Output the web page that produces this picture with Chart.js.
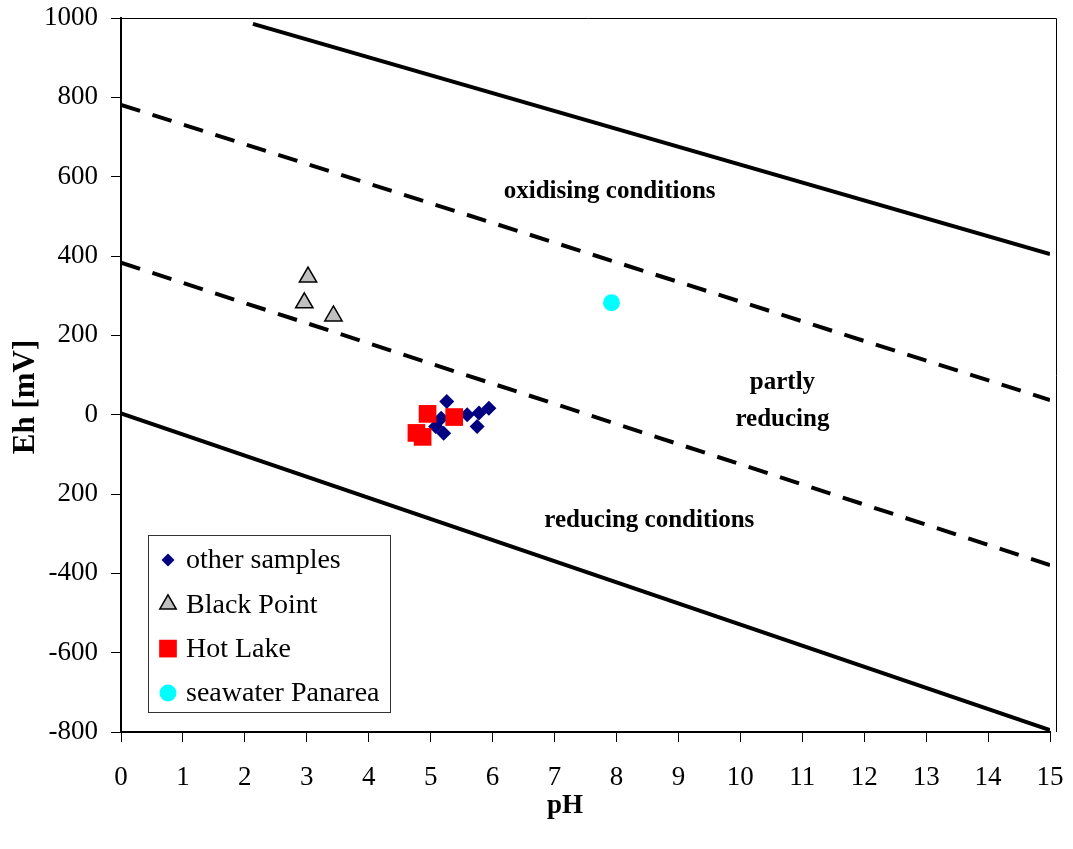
<!DOCTYPE html>
<html>
<head>
<meta charset="utf-8">
<script src="https://cdn.jsdelivr.net/npm/chart.js@4.4.0/dist/chart.umd.min.js"></script>
<style>
  html, body { margin: 0; padding: 0; background: #fff; }
  #wrap { width: 1073px; height: 849px; }
</style>
</head>
<body>
<div id="wrap"><canvas id="chart" width="1073" height="849"></canvas></div>
<script>
// measured samples, pH vs Eh [mV]
const otherSamples = [
  { x: 5.26, y: 33 }, { x: 5.17, y: -9 }, { x: 5.08, y: -30 }, { x: 5.21, y: -47 },
  { x: 5.59, y: 0 }, { x: 5.78, y: 4 }, { x: 5.94, y: 16 }, { x: 5.75, y: -30 }
];
const blackPoint = [{ x: 3.02, y: 347 }, { x: 2.96, y: 282 }, { x: 3.43, y: 249 }];
const hotLake = [{ x: 4.95, y: 2 }, { x: 5.38, y: -6 }, { x: 4.77, y: -46 }, { x: 4.87, y: -56 }];
const seawaterPanarea = [{ x: 7.92, y: 282 }];

// field boundaries
const oxidisingLimit = [{ x: 2.13, y: 985 }, { x: 15, y: 405 }];
const upperDashed = [{ x: 0, y: 781 }, { x: 15, y: 37 }];
const lowerDashed = [{ x: 0, y: 383 }, { x: 15, y: -379 }];
const reducingLimit = [{ x: 0, y: 3 }, { x: 15, y: -795 }];

// axis ticks
const ehTicks = [-800, -600, -400, -200, 0, 200, 400, 600, 800, 1000];
const ehTickLabels = ['-800', '-600', '-400', '200', '0', '200', '400', '600', '800', '1000'];

// field names, placed in data units
const fieldNames = [
  { text: 'oxidising conditions', x: 7.89, y: 562 },
  { text: 'partly', x: 10.68, y: 82 },
  { text: 'reducing', x: 10.68, y: -12 },
  { text: 'reducing conditions', x: 8.53, y: -266 }
];

const SERIF = '"Liberation Serif", "Times New Roman", serif';

function boundary(data, dashed) {
  return {
    type: 'line', data, showLine: true, pointRadius: 0, pointHoverRadius: 0,
    borderColor: '#000', borderWidth: 4, borderDash: dashed ? [20, 13] : [],
    fill: false, order: 10
  };
}

const chartDecor = {
  id: 'chartDecor',
  afterDraw(chart) {
    const { ctx, chartArea: a, scales: { x, y } } = chart;
    ctx.save();

    // thin frame on top and right of the plot
    ctx.strokeStyle = '#000';
    ctx.lineWidth = 1;
    ctx.beginPath();
    ctx.moveTo(a.left, a.top + 0.5);
    ctx.lineTo(a.right + 6.5, a.top + 0.5);
    ctx.lineTo(a.right + 6.5, a.bottom);
    ctx.stroke();

    // field names
    ctx.fillStyle = '#000';
    ctx.font = 'bold 25px ' + SERIF;
    ctx.textAlign = 'center';
    ctx.textBaseline = 'middle';
    fieldNames.forEach(n => ctx.fillText(n.text, x.getPixelForValue(n.x), y.getPixelForValue(n.y)));

    // axis titles
    ctx.font = 'bold 27px ' + SERIF;
    ctx.fillText('pH', 565, 806);
    ctx.save();
    ctx.translate(26, 397);
    ctx.rotate(-Math.PI / 2);
    ctx.font = 'bold 31px ' + SERIF;
    ctx.fillText('Eh [mV]', 0, 0);
    ctx.restore();

    // legend box
    const bx = 148, by = 535, bw = 242, bh = 177;
    ctx.fillStyle = '#fff';
    ctx.fillRect(bx, by, bw, bh);
    ctx.strokeStyle = '#333';
    ctx.lineWidth = 1;
    ctx.strokeRect(bx + 0.5, by + 0.5, bw, bh);
    ctx.font = '28px ' + SERIF;
    ctx.textAlign = 'left';
    const legendSets = chart.data.datasets.filter(d => d.label);
    legendSets.forEach((d, i) => {
      const cy = 560 + i * 44.3;
      ctx.fillStyle = d.backgroundColor;
      ctx.strokeStyle = d.borderColor;
      ctx.lineWidth = d.borderWidth;
      Chart.helpers.drawPoint(ctx, {
        pointStyle: d.pointStyle,
        radius: d.legendRadius,
        rotation: 0,
        borderWidth: d.borderWidth
      }, 168, cy);
      ctx.fillStyle = '#000';
      ctx.fillText(d.label, 186, cy + 1);
    });
    ctx.restore();
  }
};

new Chart(document.getElementById('chart'), {
  type: 'scatter',
  data: {
    datasets: [
      {
        label: 'other samples', data: otherSamples, pointStyle: 'rectRot',
        pointRadius: 7.5, legendRadius: 6.5, backgroundColor: '#000080', borderColor: '#000080',
        borderWidth: 0, order: 4
      },
      {
        label: 'Black Point', data: blackPoint, pointStyle: 'triangle',
        pointRadius: 10, legendRadius: 9.5, backgroundColor: '#c0c0c0', borderColor: '#000',
        borderWidth: 1.5, order: 3
      },
      {
        label: 'Hot Lake', data: hotLake, pointStyle: 'rect',
        pointRadius: 12.5, legendRadius: 12.5, backgroundColor: '#ff0000', borderColor: '#ff0000',
        borderWidth: 0, order: 2
      },
      {
        label: 'seawater Panarea', data: seawaterPanarea, pointStyle: 'circle',
        pointRadius: 8.5, legendRadius: 8.5, backgroundColor: '#00ffff', borderColor: '#00ffff',
        borderWidth: 0, order: 1
      },
      boundary(oxidisingLimit, false),
      boundary(upperDashed, true),
      boundary(lowerDashed, true),
      boundary(reducingLimit, false)
    ]
  },
  options: {
    responsive: false,
    devicePixelRatio: 1,
    animation: false,
    layout: { padding: { top: 18, right: 23, left: 0, bottom: 0 } },
    plugins: {
      legend: { display: false },
      tooltip: { enabled: false }
    },
    scales: {
      x: {
        type: 'linear', min: 0, max: 15,
        ticks: { stepSize: 1, color: '#000', font: { family: SERIF, size: 27 }, padding: 20, maxRotation: 0 },
        grid: { drawOnChartArea: false, tickLength: 10, tickColor: '#000', tickWidth: 1 },
        border: { color: '#000', width: 2 },
        afterFit(scale) {
          scale.height = 117;
          scale.paddingLeft = 0;
          scale.paddingRight = 0;
        }
      },
      y: {
        type: 'linear', min: -800, max: 1000,
        afterBuildTicks(scale) { scale.ticks = ehTicks.map(v => ({ value: v })); },
        ticks: {
          color: '#000', font: { family: SERIF, size: 27 }, padding: 13,
          callback: v => ehTickLabels[ehTicks.indexOf(v)]
        },
        grid: { drawOnChartArea: false, tickLength: 10, tickColor: '#000', tickWidth: 1 },
        border: { color: '#000', width: 2 },
        afterFit(scale) {
          scale.width = 121;
          scale.paddingTop = 0;
          scale.paddingBottom = 0;
        }
      }
    }
  },
  plugins: [chartDecor]
});
</script>
</body>
</html>
